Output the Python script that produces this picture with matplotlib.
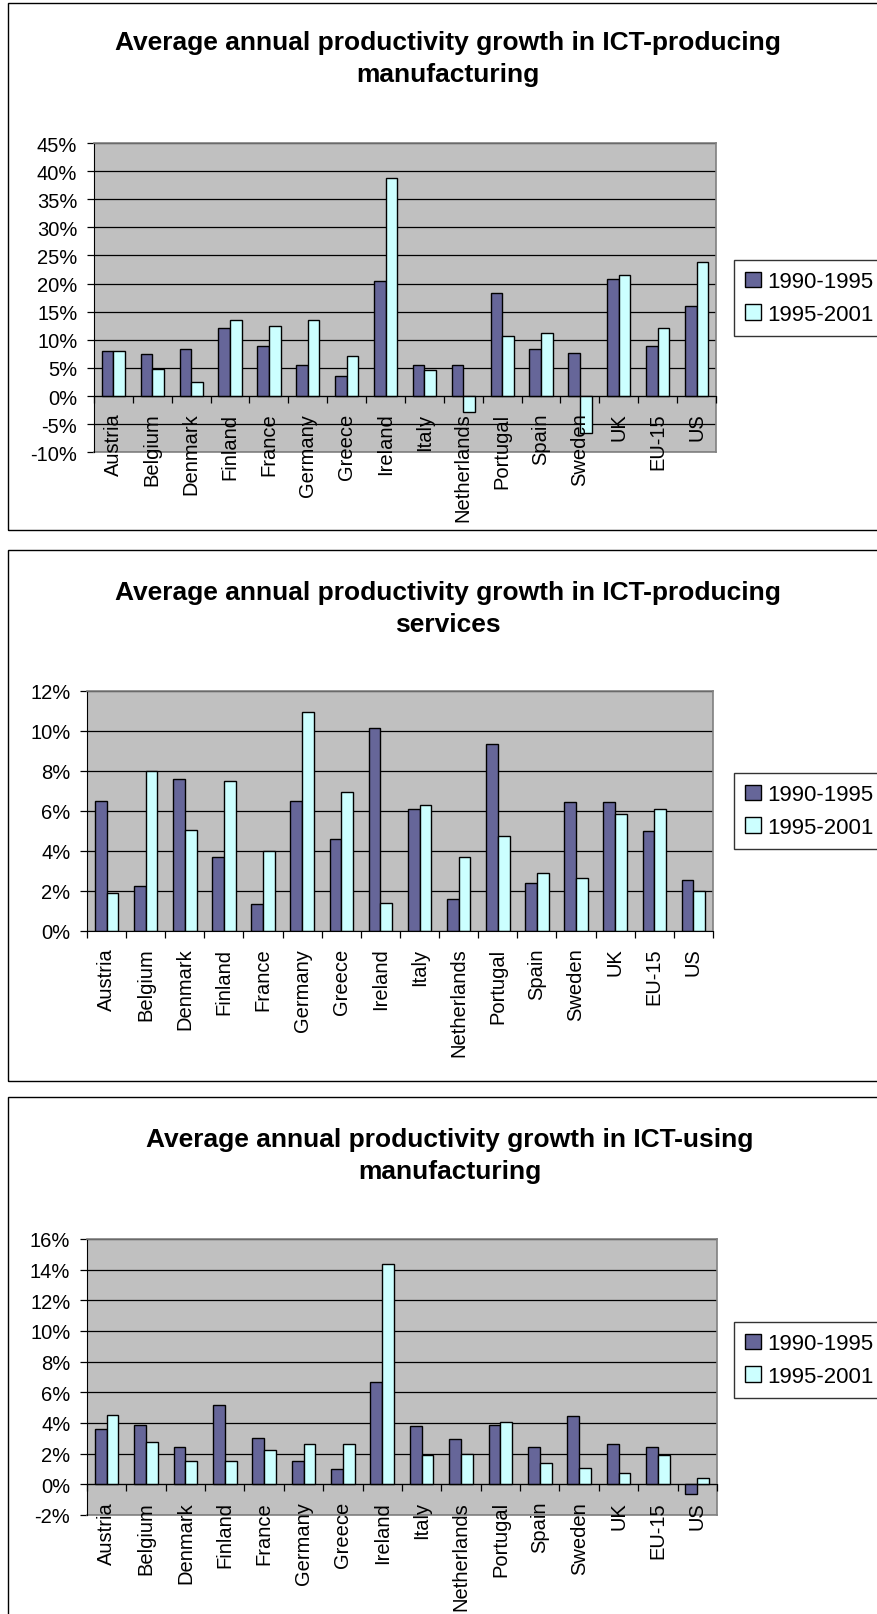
import numpy as np
import matplotlib
matplotlib.use("Agg")
import matplotlib.pyplot as plt
from matplotlib.patches import Rectangle, Patch
from matplotlib.ticker import FuncFormatter, MultipleLocator

plt.rcParams['font.family'] = ['Liberation Sans', 'DejaVu Sans']

countries = ["Austria", "Belgium", "Denmark", "Finland", "France", "Germany",
             "Greece", "Ireland", "Italy", "Netherlands", "Portugal", "Spain",
             "Sweden", "UK", "EU-15", "US"]
series_names = ["1990-1995", "1995-2001"]

# ICT-producing manufacturing (%)
mfg_prod_9095 = [8.1, 7.5, 8.4, 12.1, 8.9, 5.5, 3.5, 20.4, 5.5, 5.5, 18.4, 8.4, 7.7, 20.9, 8.9, 16.1]
mfg_prod_9501 = [8.1, 4.9, 2.5, 13.5, 12.4, 13.5, 7.2, 38.7, 4.6, -2.9, 10.6, 11.2, -6.5, 21.6, 12.1, 23.8]

# ICT-producing services (%)
srv_prod_9095 = [6.5, 2.25, 7.6, 3.7, 1.35, 6.5, 4.6, 10.15, 6.1, 1.6, 9.35, 2.4, 6.45, 6.45, 5.0, 2.55]
srv_prod_9501 = [1.9, 8.0, 5.05, 7.5, 4.0, 10.95, 6.95, 1.4, 6.3, 3.7, 4.75, 2.9, 2.65, 5.85, 6.1, 2.0]

# ICT-using manufacturing (%)
mfg_use_9095 = [3.6, 3.9, 2.45, 5.15, 3.05, 1.5, 0.98, 6.65, 3.8, 2.95, 3.9, 2.45, 4.45, 2.6, 2.45, -0.65]
mfg_use_9501 = [4.5, 2.75, 1.5, 1.5, 2.25, 2.6, 2.6, 14.4, 1.9, 2.0, 4.05, 1.4, 1.05, 0.75, 1.9, 0.43]

titles = ["Average annual productivity growth in ICT-producing\nmanufacturing",
          "Average annual productivity growth in ICT-producing\nservices",
          "Average annual productivity growth in ICT-using\nmanufacturing"]

W, H = 878, 1615
fig = plt.figure(figsize=(W / 100, H / 100), dpi=100)

DARK = "#666699"
LIGHT = "#CCFFFF"
BG = "#C0C0C0"
GRAYLINE = "#808080"

def fx(px):
    return px / W

def fy(py):
    return 1 - py / H

panels = [
    dict(data=(mfg_prod_9095, mfg_prod_9501), ylim=(-10, 45), step=5,
         box=(94, 144, 716, 453.3), border=(8, 4, 531), title_y=59, title_x=448, leg_y=299),
    dict(data=(srv_prod_9095, srv_prod_9501), ylim=(0, 12), step=2,
         box=(87, 692, 713, 932), border=(8, 551, 1082), title_y=609, title_x=448, leg_y=812),
    dict(data=(mfg_use_9095, mfg_use_9501), ylim=(-2, 16), step=2,
         box=(87, 1240, 717, 1516), border=(8, 1098, 1640), title_y=1156, title_x=450, leg_y=1361),
]

x = np.arange(len(countries))
bw = 0.3

for i, p in enumerate(panels):
    l, t, r, b = p["box"]
    bx, btop, bbot = p["border"]
    fig.add_artist(Rectangle((fx(bx), fy(bbot)), fx(W + 20 - bx), fy(btop) - fy(bbot),
                             transform=fig.transFigure, fill=False,
                             edgecolor="black", lw=1.0))
    ax = fig.add_axes([fx(l), fy(b), fx(r - l), fy(t) - fy(b)])
    ax.spines["bottom"].set_position(("data", 0))
    ax.set_facecolor(BG)
    v1, v2 = p["data"]
    ax.bar(x - bw / 2, v1, bw, color=DARK, edgecolor="black", lw=1.0, zorder=1)
    ax.bar(x + bw / 2, v2, bw, color=LIGHT, edgecolor="black", lw=1.0, zorder=1)
    ax.set_xlim(-0.5, len(countries) - 0.5)
    ax.set_ylim(*p["ylim"])
    ax.yaxis.set_major_locator(MultipleLocator(p["step"]))
    ax.yaxis.set_major_formatter(FuncFormatter(lambda v, _: f"{v:.0f}%"))
    ax.yaxis.grid(True, color="black", lw=0.9)
    ax.set_axisbelow(True)
    ax.xaxis.set_zorder(3)
    ax.set_xticks(x)
    ax.set_xticklabels(countries)
    ax.set_xticks(np.arange(-0.5, len(countries), 1), minor=True)
    ax.tick_params(axis="x", which="major", length=0, pad=12, labelsize=14.5,
                   labelrotation=90)
    ax.tick_params(axis="x", which="minor", length=5, direction="out", width=0.9)
    ax.tick_params(axis="y", which="major", length=5, direction="out", width=0.9,
                   labelsize=14.5, pad=7)
    ax.spines["bottom"].set_color("black")
    ax.spines["left"].set_color("black")
    for s in ("top", "right"):
        ax.spines[s].set_color(GRAYLINE)
        ax.spines[s].set_linewidth(1.2)
    if p["ylim"][0] < 0:
        ax.plot([0, 1], [0, 0], transform=ax.transAxes, color=GRAYLINE, lw=1.2,
                clip_on=False, zorder=0.8)
    fig.text(fx(p["title_x"]), fy(p["title_y"]), titles[i], ha="center", va="center",
             fontsize=19, fontweight="bold", linespacing=1.4)
    handles = [Patch(facecolor=DARK, edgecolor="black", lw=1.0),
               Patch(facecolor=LIGHT, edgecolor="black", lw=1.0)]
    leg = fig.legend(handles, series_names, loc="center left",
                     bbox_to_anchor=(fx(734), fy(p["leg_y"])),
                     bbox_transform=fig.transFigure, fontsize=16, frameon=True,
                     fancybox=False, edgecolor="black", borderaxespad=0,
                     handlelength=0.7, handleheight=0.7, handletextpad=0.3,
                     labelspacing=0.5, borderpad=0.5)
    leg.get_frame().set_linewidth(1.0)

fig.savefig("out.png", dpi=100)
